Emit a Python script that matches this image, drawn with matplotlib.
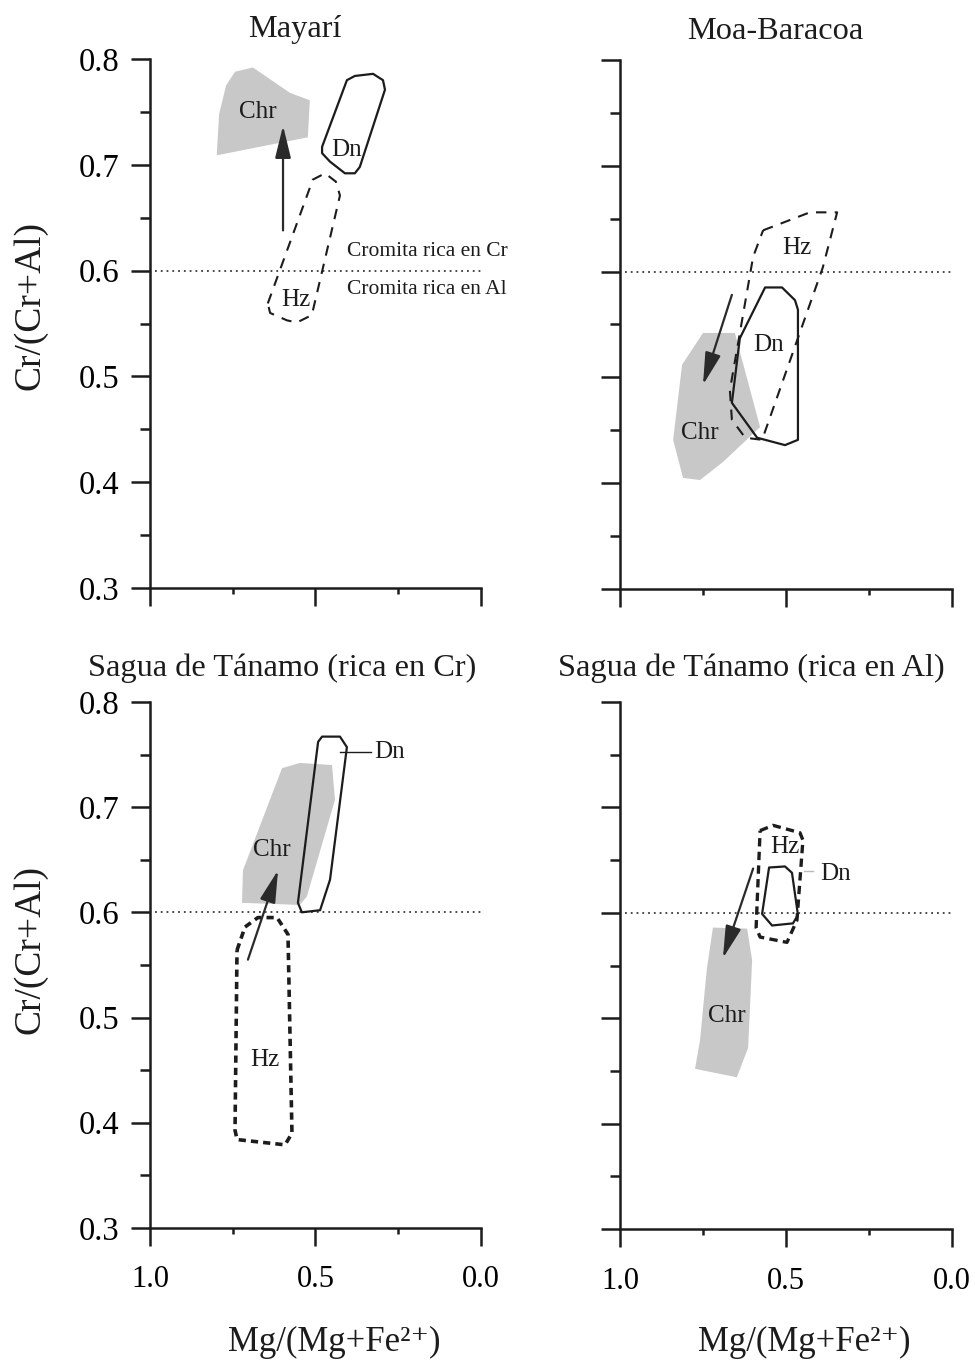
import matplotlib

matplotlib.use('Agg')
import matplotlib.pyplot as plt
from matplotlib.patches import Polygon
from matplotlib.ticker import MultipleLocator

plt.rcParams['font.family'] = ['Liberation Serif', 'DejaVu Serif']

INK = '#1c1c1c'
GRIS = '#c8c8c8'

# --- Mayarí ---
mayari_chr_x = [0.798, 0.791, 0.770, 0.743, 0.689, 0.577, 0.517, 0.523, 0.637, 0.798]
mayari_chr_y = [0.711, 0.748, 0.775, 0.788, 0.792, 0.768, 0.761, 0.726, 0.719, 0.709]
mayari_dn_x = [0.480, 0.405, 0.381, 0.326, 0.296, 0.290, 0.366, 0.381, 0.411, 0.456, 0.480]
mayari_dn_y = [0.717, 0.780, 0.784, 0.786, 0.780, 0.771, 0.698, 0.692, 0.692, 0.703, 0.711]
mayari_hz_x = [0.644, 0.508, 0.471, 0.438, 0.426, 0.511, 0.556, 0.586, 0.637]
mayari_hz_y = [0.569, 0.686, 0.692, 0.684, 0.671, 0.558, 0.551, 0.553, 0.560]
mayari_flecha = [(0.598, 0.638), (0.598, 0.737)]

# --- Moa-Baracoa ---
moa_chr_x = [0.813, 0.750, 0.654, 0.578, 0.690, 0.759, 0.810, 0.840]
moa_chr_y = [0.512, 0.542, 0.542, 0.453, 0.420, 0.403, 0.405, 0.441]
moa_dn_x = [0.563, 0.512, 0.473, 0.464, 0.464, 0.503, 0.587, 0.663, 0.639]
moa_dn_y = [0.585, 0.585, 0.573, 0.564, 0.441, 0.436, 0.443, 0.476, 0.537]
moa_hz_x = [0.569, 0.428, 0.346, 0.389, 0.572, 0.623, 0.663, 0.669, 0.599]
moa_hz_y = [0.639, 0.656, 0.656, 0.604, 0.441, 0.443, 0.460, 0.488, 0.614]
moa_flecha = [(0.663, 0.578), (0.750, 0.493)]

# --- Sagua de Tánamo (rica en Cr) ---
sagua_cr_chr_x = [0.719, 0.722, 0.547, 0.526, 0.441, 0.450, 0.547, 0.601]
sagua_cr_chr_y = [0.640, 0.609, 0.607, 0.615, 0.707, 0.740, 0.742, 0.737]
sagua_cr_dn_x = [0.492, 0.480, 0.426, 0.405, 0.456, 0.486, 0.541, 0.553]
sagua_cr_dn_y = [0.762, 0.767, 0.767, 0.757, 0.631, 0.602, 0.600, 0.609]
sagua_cr_hz_x = [0.737, 0.713, 0.674, 0.616, 0.583, 0.571, 0.592, 0.737, 0.743]
sagua_cr_hz_y = [0.564, 0.586, 0.595, 0.595, 0.579, 0.390, 0.379, 0.384, 0.393]
sagua_cr_flecha = [(0.704, 0.555), (0.613, 0.640)]

# --- Sagua de Tánamo (rica en Al) ---
sagua_al_chr_x = [0.720, 0.617, 0.602, 0.614, 0.648, 0.774, 0.759, 0.738]
sagua_al_chr_y = [0.586, 0.585, 0.555, 0.472, 0.444, 0.452, 0.479, 0.548]
sagua_al_dn_x = [0.551, 0.503, 0.482, 0.464, 0.479, 0.542, 0.572]
sagua_al_dn_y = [0.643, 0.644, 0.638, 0.598, 0.590, 0.588, 0.599]
sagua_al_hz_x = [0.578, 0.539, 0.458, 0.449, 0.467, 0.497, 0.578, 0.590]
sagua_al_hz_y = [0.678, 0.683, 0.676, 0.669, 0.593, 0.572, 0.577, 0.586]
sagua_al_flecha = [(0.599, 0.642), (0.690, 0.557)]

limite_cr_al = 0.6


def preparar_ejes(ax, etiquetas_x, etiquetas_y):
    ax.set_xlim(1.0, 0.0)
    ax.set_ylim(0.3, 0.8)
    for lado in ('top', 'right'):
        ax.spines[lado].set_visible(False)
    for lado in ('left', 'bottom'):
        ax.spines[lado].set_linewidth(1.8)
        ax.spines[lado].set_color(INK)
    ax.xaxis.set_major_locator(MultipleLocator(0.5))
    ax.xaxis.set_minor_locator(MultipleLocator(0.25))
    ax.yaxis.set_major_locator(MultipleLocator(0.1))
    ax.yaxis.set_minor_locator(MultipleLocator(0.05))
    ax.tick_params(axis='x', which='major', length=13, width=1.8, color=INK, pad=14,
                   labelsize=22, labelbottom=etiquetas_x)
    ax.tick_params(axis='x', which='minor', length=4.5, width=1.8, color=INK)
    ax.tick_params(axis='y', which='major', length=14, width=1.8, color=INK, pad=8,
                   labelsize=23.5, labelleft=etiquetas_y)
    ax.tick_params(axis='y', which='minor', length=7, width=1.8, color=INK)
    ax.xaxis.set_major_formatter(lambda v, p: f'{v:.1f}')
    ax.yaxis.set_major_formatter(lambda v, p: f'{v:.1f}')
    ax.axhline(limite_cr_al, xmin=0.015, xmax=1.0, color='#3a3a3a', lw=1.3,
               linestyle=(0, (1, 2.2)), zorder=1)


def dibujar_campos(ax, chr_xy, dn_xy, hz_xy, estilo_hz, lw_hz, flecha):
    ax.add_patch(Polygon(list(zip(*chr_xy)), closed=True, facecolor=GRIS,
                         edgecolor='none', zorder=2))
    ax.add_patch(Polygon(list(zip(*hz_xy)), closed=True, facecolor='none',
                         edgecolor=INK, lw=lw_hz, linestyle=estilo_hz, zorder=3,
                         joinstyle='round'))
    ax.add_patch(Polygon(list(zip(*dn_xy)), closed=True, facecolor='none',
                         edgecolor=INK, lw=1.6, zorder=4, joinstyle='round'))
    ax.annotate('', xy=flecha[1], xytext=flecha[0],
                arrowprops=dict(arrowstyle='-|>,head_length=0.9,head_width=0.22',
                                color='#2a2a2a', lw=1.6, mutation_scale=22,
                                shrinkA=0, shrinkB=0), zorder=5)


fig = plt.figure(figsize=(9.75, 13.6), dpi=100)
ax_tl = fig.add_axes([0.1538, 0.5676, 0.3395, 0.3890])
ax_tr = fig.add_axes([0.6359, 0.5669, 0.3405, 0.3890])
ax_bl = fig.add_axes([0.1538, 0.0971, 0.3395, 0.3868])
ax_br = fig.add_axes([0.6359, 0.0963, 0.3405, 0.3875])

preparar_ejes(ax_tl, False, True)
preparar_ejes(ax_tr, False, False)
preparar_ejes(ax_bl, True, True)
preparar_ejes(ax_br, True, False)

etiqueta = dict(fontsize=18, color=INK, ha='center', va='center', zorder=6)

# Mayarí
dibujar_campos(ax_tl, (mayari_chr_x, mayari_chr_y), (mayari_dn_x, mayari_dn_y),
               (mayari_hz_x, mayari_hz_y), (0, (5, 4)), 1.5, mayari_flecha)
ax_tl.text(0.674, 0.750, 'Chr', **etiqueta)
ax_tl.text(0.405, 0.714, 'Dn', **etiqueta)
ax_tl.text(0.560, 0.572, 'Hz', **etiqueta)
ax_tl.text(0.405, 0.618, 'Cromita rica en Cr', fontsize=15.5, color=INK, ha='left', va='center')
ax_tl.text(0.405, 0.582, 'Cromita rica en Al', fontsize=15.5, color=INK, ha='left', va='center')

# Moa-Baracoa
dibujar_campos(ax_tr, (moa_chr_x, moa_chr_y), (moa_dn_x, moa_dn_y),
               (moa_hz_x, moa_hz_y), (0, (5, 4)), 1.5, moa_flecha)
ax_tr.text(0.759, 0.447, 'Chr', **etiqueta)
ax_tr.text(0.554, 0.531, 'Dn', **etiqueta)
ax_tr.text(0.467, 0.622, 'Hz', **etiqueta)

# Sagua de Tánamo (rica en Cr)
dibujar_campos(ax_bl, (sagua_cr_chr_x, sagua_cr_chr_y), (sagua_cr_dn_x, sagua_cr_dn_y),
               (sagua_cr_hz_x, sagua_cr_hz_y), (0, (2, 1.4)), 2.6, sagua_cr_flecha)
ax_bl.text(0.631, 0.659, 'Chr', **etiqueta)
ax_bl.text(0.653, 0.460, 'Hz', **etiqueta)
ax_bl.plot([0.426, 0.331], [0.752, 0.752], color=INK, lw=1.0, zorder=5)
ax_bl.text(0.322, 0.752, 'Dn', fontsize=18, color=INK, ha='left', va='center')

# Sagua de Tánamo (rica en Al)
dibujar_campos(ax_br, (sagua_al_chr_x, sagua_al_chr_y), (sagua_al_dn_x, sagua_al_dn_y),
               (sagua_al_hz_x, sagua_al_hz_y), (0, (2.5, 1.6)), 2.4, sagua_al_flecha)
ax_br.text(0.678, 0.502, 'Chr', **etiqueta)
ax_br.text(0.503, 0.662, 'Hz', **etiqueta)
ax_br.plot([0.445, 0.420], [0.640, 0.640], color='#bbbbbb', lw=1.0, zorder=5)
ax_br.text(0.398, 0.637, 'Dn', fontsize=18, color=INK, ha='left', va='center')

# Títulos
titulo = dict(fontsize=23.3, color=INK, ha='center', va='center')
fig.text(0.3026, 0.978, 'Mayarí', **titulo)
fig.text(0.795, 0.9765, 'Moa-Baracoa', **titulo)
fig.text(0.289, 0.5088, 'Sagua de Tánamo (rica en Cr)', **titulo)
fig.text(0.771, 0.5088, 'Sagua de Tánamo (rica en Al)', **titulo)

# Ejes
fig.text(0.031, 0.7757, 'Cr/(Cr+Al)', fontsize=27, color=INK, rotation=90,
         ha='center', va='center')
fig.text(0.031, 0.3015, 'Cr/(Cr+Al)', fontsize=27, color=INK, rotation=90,
         ha='center', va='center')
fig.text(0.3426, 0.0128, 'Mg/(Mg+Fe²⁺)', fontsize=25, color=INK,
         ha='center', va='center')
fig.text(0.8246, 0.0128, 'Mg/(Mg+Fe²⁺)', fontsize=25, color=INK,
         ha='center', va='center')

fig.savefig('out.png', dpi=100)
plt.close(fig)
